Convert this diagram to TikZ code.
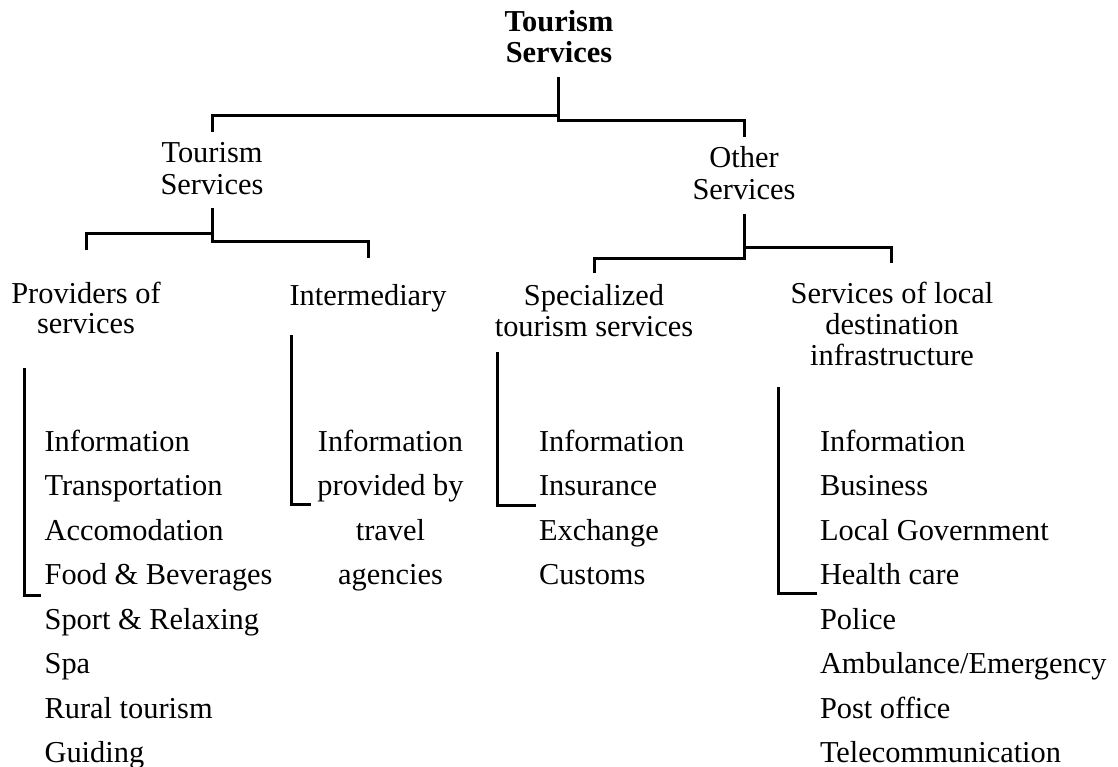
\documentclass[tikz,border=0pt]{standalone}
\usepackage{fontspec}
\setmainfont{Liberation Serif}
% stacked lines with a fixed baseline distance; the box baseline is the first line
\newcommand\colC[2]{\vtop{\let\\\cr\baselineskip=#1\halign{\hfil##\hfil\cr#2\crcr}}}
\newcommand\colL[2]{\vtop{\let\\\cr\baselineskip=#1\halign{##\hfil\cr#2\crcr}}}
\begin{document}
\begin{tikzpicture}[x=1pt,y=-1pt,
  every node/.style={inner sep=0pt, outer sep=0pt, font=\fontsize{30.4}{31}\selectfont},
  headbox/.style={anchor=base, font=\fontsize{30.4}{31}\selectfont\bfseries},
  catbox/.style={anchor=base},
  listbox/.style={anchor=base west},
  link/.style={line width=3pt, line join=miter}]
\useasboundingbox (0,0) rectangle (1118,767);

% ---- labels ----
\node[headbox] (root) at (559,32) {\colC{31pt}{Tourism\\Services}};
\node[catbox] (tour) at (212,163) {\colC{32pt}{Tourism\\Services}};
\node[catbox] (other) at (744,168) {\colC{32pt}{Other\\Services}};
\node[catbox] (prov) at (86,303) {\colC{30pt}{Providers of\\services}};
\node[catbox] (inter) at (368,305) {Intermediary};
\node[catbox] (spec) at (594,305) {\colC{32pt}{Specialized\\tourism services}};
\node[catbox] (infra) at (892,303) {\colC{31pt}{Services of local\\destination\\infrastructure}};

% ---- item lists ----
\node[listbox] (provlist) at (44.6,451) {\colL{44.5pt}{Information\\Transportation\\Accomodation\\Food \& Beverages\\Sport \& Relaxing\\Spa\\Rural tourism\\Guiding}};
\node[catbox] (interlist) at (390.5,451) {\colC{44.5pt}{Information\\provided by\\travel\\agencies}};
\node[listbox] (speclist) at (539,451) {\colL{44.5pt}{Information\\Insurance\\Exchange\\Customs}};
\node[listbox] (infralist) at (820,451) {\colL{44.5pt}{Information\\Business\\Local Government\\Health care\\Police\\Ambulance/Emergency\\Post office\\Telecommunication}};

% ---- junction points ----
\coordinate (root-top) at (558,77);
\coordinate (root-l) at (558,115.5);
\coordinate (root-r) at (558,120.5);
\coordinate (tour-top) at (212,132);
\coordinate (other-top) at (744,137);

\coordinate (tour-stem) at (212,208);
\coordinate (tour-l) at (212,234);
\coordinate (tour-r) at (212,242);
\coordinate (prov-top) at (86,250);
\coordinate (inter-top) at (368,258);

\coordinate (other-stem) at (744,214);
\coordinate (other-r) at (744,248);
\coordinate (other-l) at (744,258);
\coordinate (spec-top) at (594,273);
\coordinate (infra-top) at (891,263);

\coordinate (provb-top) at (24,368);
\coordinate (provb-end) at (41,595);
\coordinate (interb-top) at (291,335);
\coordinate (interb-end) at (311,504);
\coordinate (specb-top) at (497.5,352);
\coordinate (specb-end) at (536,505);
\coordinate (infrab-top) at (778,387);
\coordinate (infrab-end) at (817,593);

% ---- tree connectors ----
\draw[link] (tour-top) |- (root-l);
\draw[link] (root-top) -- (root-r) -| (other-top);

\draw[link] (tour-stem) -- (tour-r) -| (inter-top);
\draw[link] (tour-l) -| (prov-top);

\draw[link] (other-stem) -- (other-l) -| (spec-top);
\draw[link] (other-r) -| (infra-top);

% ---- list brackets ----
\draw[link] (provb-top) |- (provb-end);
\draw[link] (interb-top) |- (interb-end);
\draw[link] (specb-top) |- (specb-end);
\draw[link] (infrab-top) |- (infrab-end);
\end{tikzpicture}
\end{document}
